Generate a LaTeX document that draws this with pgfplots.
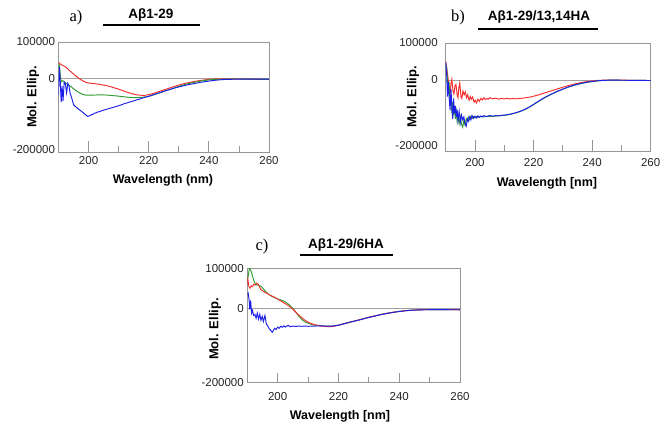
\documentclass[border=0pt]{standalone}
\usepackage{fontspec}
\setmainfont{Liberation Sans}
\newfontfamily\serif{Liberation Serif}
\usepackage{pgfplots}
\pgfplotsset{compat=1.18}

\definecolor{cdred}{RGB}{245,45,45}
\definecolor{cdgreen}{RGB}{45,155,45}
\definecolor{cdblue}{RGB}{30,30,235}
\definecolor{boxgray}{RGB}{150,150,150}
\definecolor{zerogray}{RGB}{160,160,160}

\pgfplotsset{
  cdpanel/.style={
    scale only axis, xmin=190, xmax=260, ymax=100000,
    scaled y ticks=false,
    axis line style={draw=boxgray, line width=0.8pt},
    xtick={200,220,240,260}, xticklabels={200,220,240,260},
    tick style={draw=none},
    yticklabels={-200000,0,100000},
    tick label style={font=\fontsize{11.5}{12}\selectfont, color=black!85},
  },
  cdline/.style={line width=0.95pt, mark=none},
}
% inward tick marks on the bottom edge (major 200/220/240, minor 210/230/250)
\newcommand{\cdticks}[2]{%
  \pgfplotsinvokeforeach{200,220,240}{%
    \draw[boxgray, line width=0.8pt] ({axis cs:##1,0} |- {rel axis cs:0,0}) -- ++(0pt,#1);}
  \pgfplotsinvokeforeach{210,230,250}{%
    \draw[boxgray, line width=0.8pt] ({axis cs:##1,0} |- {rel axis cs:0,0}) -- ++(0pt,#2);}
}

\begin{document}
\begin{tikzpicture}
\path[use as bounding box] (0,0) rectangle (665pt,424pt);

% ---------- panel a ----------
\begin{axis}[cdpanel, at={(58.5pt,271.5pt)}, anchor=south west,
  width=210.5pt, height=110.5pt, ymin=-200000,
  ytick={-192000,0,100000}]
\addplot[zerogray, line width=0.8pt] coordinates {(190,0) (260,0)};
\addplot[cdline, cdred] coordinates {
(190,45000) (190.5,41000) (191,38000) (192,34000) (193,28000) (194,20000)
(195,13000) (196,6000) (197,0) (198,-5000) (199,-9000) (200,-11500)
(202,-13000) (204,-15500) (206,-18500) (208,-23000) (210,-28000) (212,-34000)
(214,-39500) (216,-43500) (218,-45000) (219,-44500) (220,-43000) (222,-38500)
(224,-33000) (226,-27500) (228,-22000) (230,-17000) (232,-12500) (234,-9000)
(236,-6000) (238,-3500) (240,-1500) (242,-300) (245,300) (250,0) (255,-800)
(260,-1200)};
\addplot[cdline, cdgreen] coordinates {
(190,30000) (190.3,36000) (190.6,10000) (190.9,-8000) (191.3,-5000)
(191.7,-7000) (192.2,-10000) (193,-15000) (194,-20000) (195,-27000)
(196,-33000) (197,-38000) (198,-42000) (199,-44000) (200,-44500) (202,-44000)
(204,-43500) (206,-44000) (208,-45500) (210,-47000) (212,-49000) (214,-50500)
(216,-51000) (218,-50000) (220,-47500) (222,-42500) (224,-37000) (226,-31500)
(228,-26000) (230,-20500) (232,-15500) (234,-11500) (236,-8000) (238,-5000)
(240,-3000) (242,-1500) (245,-500) (250,-500) (255,-1000) (260,-1500)};
\addplot[cdline, cdblue] coordinates {
(190,-45000) (190.3,32000) (190.6,-10000) (190.9,-63000) (191.2,-20000)
(191.5,-60000) (191.9,-9000) (192.3,-14000) (192.7,-38000) (193.1,-12000)
(193.5,-20000) (193.9,-40000) (194.4,-52000) (195,-70000) (195.6,-75000)
(196.3,-80000) (197,-84000) (197.6,-88000) (198.2,-92000) (198.8,-96000)
(199.7,-102000) (200.5,-100000) (201,-97000) (201.5,-96000) (202,-93000)
(202.5,-92500) (203,-90000) (203.5,-89500) (204,-88000) (204.5,-86000)
(205,-85000) (205.5,-84000) (206,-82500) (206.5,-81500) (207,-80000)
(208,-78000) (209,-75500) (210,-73000) (211,-70500) (212,-67000) (213,-65000)
(214,-62000) (215,-60000) (216,-57000) (217,-55000) (218,-52000) (220,-47500)
(222,-42000) (224,-36500) (226,-31500) (228,-26500) (230,-22000) (232,-18000)
(234,-14500) (236,-11500) (238,-8500) (240,-6000) (242,-4000) (244,-2500)
(246,-1500) (250,-800) (255,-700) (260,-1000)};
\cdticks{11pt}{6.5pt}
\end{axis}

% ---------- panel b ----------
\begin{axis}[cdpanel, at={(445.7pt,272.3pt)}, anchor=south west,
  width=205pt, height=108.7pt, ymin=-194000,
  ytick={-177000,0,100000}, yticklabel style={xshift=-4.5pt},
  xticklabel style={yshift=-3pt}]
\addplot[zerogray, line width=0.8pt] coordinates {(190,0) (260,0)};
\addplot[cdline, cdred] coordinates {
(190,50000) (190.4,30000) (190.8,5000) (191.2,-20000) (191.5,-42000)
(191.8,-10000) (192.1,2000) (192.5,-30000) (192.8,-38000) (193.2,-15000)
(193.5,-12000) (193.9,-40000) (194.2,-48000) (194.5,-20000) (194.8,-8000)
(195.2,-45000) (195.5,-50000) (195.9,-30000) (196.3,-40000) (196.7,-32000)
(197.1,-48000) (197.5,-40000) (198,-55000) (198.4,-45000) (198.8,-52000)
(199.2,-46000) (199.7,-60000) (200.1,-55000) (200.5,-62000) (201,-52000)
(201.5,-58000) (202,-50000) (202.5,-54000) (203,-48000) (203.5,-53000)
(204,-50000) (204.5,-52000) (205,-48000) (206,-51000) (207,-49000)
(208,-52000) (209,-50000) (210,-51000) (211,-49500) (212,-51500) (213,-50000)
(214,-51000) (215,-50000) (216,-49500) (217,-48500) (218,-47000) (219,-46000)
(220,-44000) (222,-39500) (224,-34500) (226,-29500) (228,-24500) (230,-19500)
(232,-15000) (234,-11000) (236,-7500) (238,-4500) (240,-2500) (242,-1000)
(245,-300) (250,-500) (255,-1000) (260,-1500)};
\addplot[cdline, cdgreen] coordinates {
(190,40000) (190.3,35000) (190.6,0) (190.9,-30000) (191.2,-15000)
(191.5,-60000) (191.8,-40000) (192.1,-90000) (192.4,-60000) (192.7,-95000)
(193,-75000) (193.3,-105000) (193.6,-85000) (193.9,-112000) (194.2,-95000)
(194.6,-118000) (195,-100000) (195.4,-120000) (195.8,-128000) (196.2,-110000)
(196.6,-122000) (197,-105000) (197.4,-110000) (197.8,-100000) (198.2,-106000)
(198.6,-98000) (199,-104000) (199.5,-99000) (200,-102000) (200.5,-99000)
(201,-101000) (202,-99000) (203,-100000) (204,-98000) (205,-99000)
(206,-97500) (207,-98000) (208,-96500) (209,-96500) (210,-95500) (211,-94500)
(212,-93000) (213,-91000) (214,-89000) (215,-86500) (216,-83500) (217,-80000)
(218,-76000) (219,-71500) (220,-66500) (221,-61500) (222,-56500) (223,-51500)
(224,-47000) (225,-43000) (226,-39000) (228,-31500) (230,-25000) (232,-19000)
(234,-14000) (236,-10000) (238,-6800) (240,-4200) (242,-2400) (244,-1100)
(246,-600) (250,-700) (255,-1000) (260,-1500)};
\addplot[cdline, cdblue] coordinates {
(190,48000) (190.3,20000) (190.6,-45000) (190.9,-5000) (191.2,-50000)
(191.5,-82000) (191.8,-25000) (192.1,-70000) (192.4,-105000) (192.7,-50000)
(193,-90000) (193.3,-70000) (193.6,-100000) (193.9,-80000) (194.2,-110000)
(194.6,-85000) (195,-115000) (195.4,-95000) (195.8,-108000) (196.2,-100000)
(196.6,-118000) (197,-125000) (197.4,-105000) (197.8,-112000) (198.2,-100000)
(198.6,-108000) (199,-96000) (199.5,-104000) (200,-98000) (200.5,-103000)
(201,-97000) (201.5,-101000) (202,-97000) (202.5,-100000) (203,-96500)
(204,-99000) (205,-96000) (206,-98000) (207,-96500) (208,-97000) (209,-95500)
(210,-95000) (211,-94000) (212,-92500) (213,-90500) (214,-88500) (215,-86000)
(216,-83000) (217,-79500) (218,-75500) (219,-71000) (220,-66000) (221,-61000)
(222,-56000) (223,-51000) (224,-46500) (225,-42500) (226,-38500) (228,-31000)
(230,-24500) (232,-18500) (234,-13500) (236,-9500) (238,-6500) (240,-4000)
(242,-2200) (244,-1000) (246,-500) (250,-700) (255,-1000) (260,-1500)};
\cdticks{12pt}{6.5pt}
\end{axis}

% ---------- panel c ----------
\begin{axis}[cdpanel, at={(247.3pt,41.5pt)}, anchor=south west,
  width=212.7pt, height=114.2pt, ymin=-185500,
  ytick={-185500,0,100000},
  xticklabel style={yshift=-6pt}]
\addplot[zerogray, line width=0.8pt] coordinates {(190,0) (260,0)};
\addplot[cdline, cdgreen] coordinates {
(190,70000) (190.4,85000) (190.7,100000) (191,97000) (191.4,90000)
(191.8,78000) (192.3,66000) (192.8,60000) (193.3,58000) (193.8,57000)
(194.3,56000) (194.8,53000) (195.3,48000) (196,42000) (197,35000) (198,30000)
(199,26500) (200,23500) (201,21000) (202,18000) (203,13500) (204,7500)
(205,-500) (206,-10000) (207,-20000) (208,-28500) (209,-34000) (210,-37500)
(211,-40000) (212,-41500) (213,-42500) (214,-43500) (215,-44000) (216,-44500)
(217,-44800) (218,-44500) (220,-42000) (222,-38000) (224,-34000) (226,-30500)
(228,-26500) (230,-22500) (232,-19000) (234,-15500) (236,-12500) (238,-10000)
(240,-7800) (242,-6000) (244,-4800) (246,-4000) (248,-3500) (250,-3300)
(255,-3300) (260,-3500)};
\addplot[cdline, cdred] coordinates {
(190,60000) (190.2,72000) (190.5,55000) (190.9,50000) (191.3,56000)
(191.7,54000) (192.1,60000) (192.6,58000) (193.1,63000) (193.6,60000)
(194.1,52000) (194.6,46000) (195.2,43000) (196,39000) (197,35000) (198,31000)
(199,27500) (200,23000) (201,18500) (202,14000) (203,9000) (204,4000)
(205,-2500) (206,-10000) (207,-17000) (208,-24000) (209,-30000) (210,-34500)
(211,-38000) (212,-40500) (213,-42500) (214,-44000) (215,-45000) (216,-45500)
(217,-46000) (218,-45500) (220,-42500) (222,-38500) (224,-34500) (226,-30500)
(228,-26500) (230,-22500) (232,-19000) (234,-15500) (236,-12500) (238,-10000)
(240,-7800) (242,-6000) (244,-4800) (246,-4000) (248,-3500) (250,-3300)
(255,-3300) (260,-3500)};
\addplot[cdline, cdblue] coordinates {
(190,35000) (190.3,38000) (190.6,20000) (190.8,-3000) (191.1,20000)
(191.4,-12000) (191.7,-5000) (192.1,-18000) (192.5,-15000) (192.9,-25000)
(193.3,-12000) (193.7,-27000) (194.1,-15000) (194.5,-30000) (194.9,-20000)
(195.3,-33000) (195.8,-18000) (196.3,-40000) (196.8,-45000) (197.3,-52000)
(197.8,-56000) (198.2,-60000) (198.6,-55000) (199,-50000) (199.5,-53000)
(200,-47000) (200.5,-50000) (201,-45000) (201.5,-47500) (202,-44000)
(202.5,-47000) (203,-44500) (203.5,-42500) (204,-46000) (205,-44500)
(206,-45500) (207,-44500) (208,-45000) (209,-44500) (210,-45000) (212,-44500)
(214,-44000) (216,-44500) (218,-44500) (220,-42300) (222,-38300) (224,-34300)
(226,-30800) (228,-26800) (230,-22800) (232,-19300) (234,-15800) (236,-12800)
(238,-10200) (240,-8000) (242,-6200) (244,-5000) (246,-4200) (248,-3700)
(250,-3500) (255,-3500) (260,-3700)};
\cdticks{10pt}{6pt}
\end{axis}

% ---------- labels and titles ----------
\tikzset{ylab/.style={rotate=90, font=\bfseries\fontsize{13}{14}\selectfont},
         xlab/.style={font=\bfseries\fontsize{12.5}{14}\selectfont},
         ttl/.style={font=\bfseries\fontsize{13.5}{15}\selectfont},
         pan/.style={font=\serif\fontsize{16.5}{18}\selectfont}}
\node[ylab] at (33pt,327pt) {Mol. Ellip.};
\node[ylab] at (413pt,327pt) {Mol. Ellip.};
\node[ylab] at (215pt,95pt) {Mol. Ellip.};
\node[xlab] at (163pt,244pt) {Wavelength (nm)};
\node[xlab] at (547pt,241pt) {Wavelength [nm]};
\node[xlab] at (340pt,8pt) {Wavelength [nm]};

\node[pan] at (76pt,406pt) {a)};
\node[ttl] at (151pt,409pt) {Aβ1-29};
\draw[line width=2pt] (103pt,399pt) -- (200pt,399pt);

\node[pan] at (458pt,406pt) {b)};
\node[ttl] at (539pt,407.3pt) {Aβ1-29/13,14HA};
\draw[line width=2pt] (478pt,395pt) -- (598pt,395pt);

\node[pan] at (262pt,177pt) {c)};
\node[ttl] at (346pt,179pt) {Aβ1-29/6HA};
\draw[line width=2pt] (300pt,169.5pt) -- (393pt,169.5pt);
\end{tikzpicture}
\end{document}
